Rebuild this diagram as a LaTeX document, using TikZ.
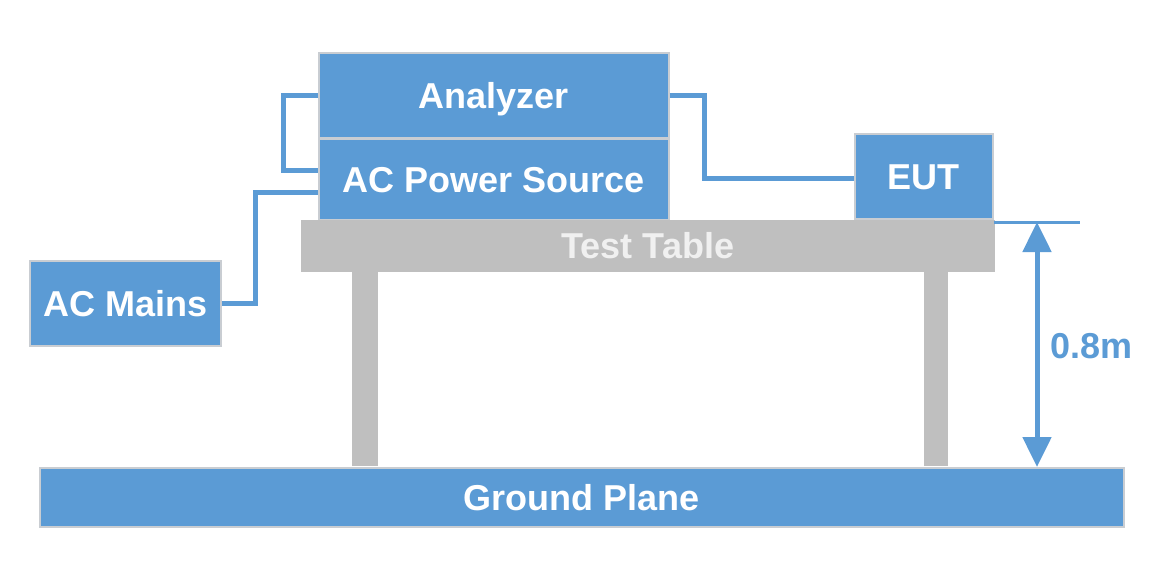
\documentclass[tikz,border=0pt]{standalone}
\usepackage{fontspec}
\setmainfont{Liberation Sans}
\usetikzlibrary{positioning}
\usetikzlibrary{calc}
\usetikzlibrary{arrows.meta}
\definecolor{boxblue}{HTML}{5B9BD5}
\definecolor{tablegray}{HTML}{BFBFBF}
\definecolor{edgegray}{HTML}{C9CDD2}

\begin{document}
\begin{tikzpicture} [
    x=1pt, y=-1pt,              % pixel grid, top-down
    node distance=0pt,          % stacked boxes touch
    ]
% -------------------------------------------------
\tikzset{
  base/.style={draw=edgegray, line width=1.5pt, align=center, inner sep=0pt,
    text height=26pt, text depth=0pt, font=\fontsize{36}{40}\selectfont\bfseries},
  rect/.style={base, rectangle, fill=boxblue, text=white},
  slab/.style={base, rectangle, fill=tablegray, draw=none, text=white!94!black},
  leg/.style={rectangle, fill=tablegray, inner sep=0pt, minimum height=195pt},
  line/.style={draw=boxblue, line width=5pt},
  dimline/.style={draw=boxblue, line width=3pt},
  dimarrow/.style={draw=boxblue, line width=5pt, {Triangle[width=28pt,length=30pt]}-{Triangle[width=28pt,length=30pt]}},
}
    \fill[white] (0,0) rectangle (1169,565);
    \useasboundingbox (0,0) rectangle (1169,565);

    \node [rect, anchor=north west, minimum width=350pt, minimum height=85pt] (ana) at (318,52) {Analyzer};
    \node [rect, below=of ana, minimum width=350pt, minimum height=80pt] (acps) {AC Power Source};

    \node [slab, anchor=north west, minimum width=694pt, minimum height=52pt] (tab) at (300,219) {Test Table};
    \node [leg, anchor=north, minimum width=26pt] (leg1) at (365,271) {};
    \node [leg, anchor=north, minimum width=24pt] (leg2) at (936,271) {};

    \node [rect, anchor=north west, minimum width=138pt, minimum height=85pt] (eut) at (854,133) {EUT};
    \node [rect, anchor=north west, minimum width=191pt, minimum height=85pt] (mains) at (29,260) {AC Mains};

    \node [rect, anchor=north west, minimum width=1084pt, minimum height=59pt] (gnd) at (39,467) {Ground Plane};

    \path [line] (ana.west) -- ++(-35,0) |- ($(acps.west)+(0,-9)$);
    \path [line] (ana.east) -- ++(35,0) |- ($(eut.west)+(0,2.5)$);
    \path [line] (mains.east) -- ++(34,0) |- ($(acps.west)+(0,13)$);

    \coordinate (dimend) at (1080,222);
    \coordinate (dimtop) at (1037,222);
    \path [dimline] (eut.south east |- dimend) -- (dimend);
    \path [dimarrow] (dimtop) -- (dimtop |- gnd.north);
    \node [base, draw=none, text=boxblue, anchor=west] (height) at (1050,345) {0.8m};

\end{tikzpicture}
\end{document}
